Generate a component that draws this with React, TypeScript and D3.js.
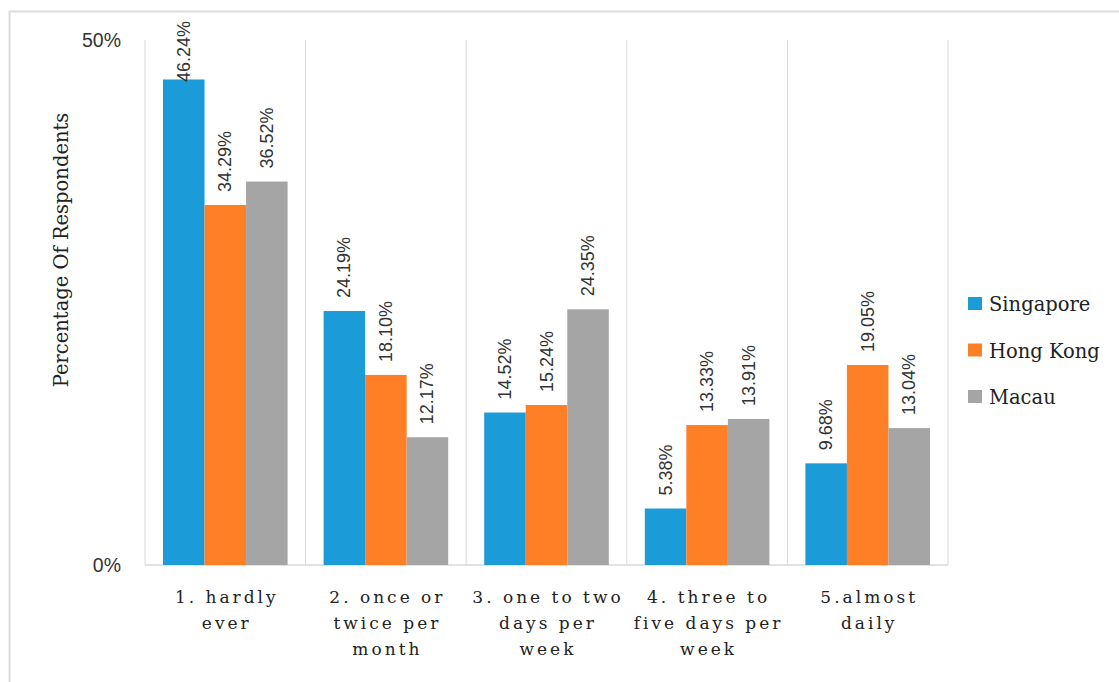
import * as d3 from "d3";

const categories = ["1", "2", "3", "4", "5"];
const categoryLines = [
  ["1. hardly", "ever"],
  ["2. once or", "twice per", "month"],
  ["3. one to two", "days per", "week"],
  ["4. three to", "five days per", "week"],
  ["5.almost", "daily"],
];
const seriesNames = ["Singapore", "Hong Kong", "Macau"];
const seriesColors = ["#1b9bd7", "#ff7f27", "#a5a5a5"];
const singapore = [46.24, 24.19, 14.52, 5.38, 9.68];
const hongKong = [34.29, 18.1, 15.24, 13.33, 19.05];
const macau = [36.52, 12.17, 24.35, 13.91, 13.04];
const seriesValues = [singapore, hongKong, macau];
const yTicks = [0, 50];

const width = 1119;
const height = 682;
const left = 145;
const right = 948;
const top = 40;
const bottom = 565;

export default function App() {
  const x = d3.scaleBand<string>().domain(categories).range([left, right]);
  const inner = d3
    .scaleBand<string>()
    .domain(seriesNames)
    .range([18, x.bandwidth() - 18]);
  const y = d3.scaleLinear().domain([0, 50]).range([bottom, top]);

  const grid = [...categories.map((c) => x(c)!), right];
  const sansFont = "'Liberation Sans', Arial, sans-serif";
  const serifFont = "'DejaVu Serif', serif";

  return (
    <svg
      width={width}
      height={height}
      style={{ position: "absolute", left: 0, top: 0, background: "#fff" }}
    >
      {/* outer frame */}
      <rect x={9.5} y={11.5} width={1200} height={800} fill="none" stroke="#dcdcdc" strokeWidth={2} />

      {/* vertical gridlines */}
      {grid.map((gx, i) => (
        <line key={i} x1={gx} x2={gx} y1={top} y2={bottom} stroke="#d9d9d9" strokeWidth={1} />
      ))}
      <line x1={left} x2={right} y1={bottom} y2={bottom} stroke="#d9d9d9" strokeWidth={1.5} />

      {/* y tick labels */}
      {yTicks.map((t) => (
        <text
          key={t}
          x={121}
          y={y(t) + 7}
          textAnchor="end"
          fontFamily={sansFont}
          fontSize={19.5}
          fill="#333"
        >
          {t}%
        </text>
      ))}

      {/* y axis title */}
      <text
        transform={`translate(68,250) rotate(-90)`}
        textAnchor="middle"
        fontFamily={serifFont}
        fontSize={19.5}
        fill="#222"
      >
        Percentage Of Respondents
      </text>

      {/* bars */}
      {seriesValues.map((vals, si) =>
        vals.map((v, ci) => {
          const bx = x(categories[ci])! + inner(seriesNames[si])!;
          return (
            <rect
              key={`${si}-${ci}`}
              x={bx}
              y={y(v)}
              width={inner.bandwidth()}
              height={bottom - y(v)}
              fill={seriesColors[si]}
            />
          );
        })
      )}

      {/* bar value labels */}
      {seriesValues.map((vals, si) =>
        vals.map((v, ci) => {
          const cx = x(categories[ci])! + inner(seriesNames[si])! + inner.bandwidth() / 2;
          const ty = Math.max(y(v) - 13, top + 42);
          return (
            <text
              key={`l${si}-${ci}`}
              transform={`translate(${cx + 6},${ty}) rotate(-90)`}
              fontFamily={sansFont}
              fontSize={18}
              fill="#333"
            >
              {v.toFixed(2)}%
            </text>
          );
        })
      )}

      {/* category labels */}
      {categoryLines.map((lines, ci) =>
        lines.map((ln, li) => (
          <text
            key={`c${ci}-${li}`}
            x={x(categories[ci])! + x.bandwidth() / 2 + 1.5}
            y={603 + li * 26}
            textAnchor="middle"
            fontFamily={serifFont}
            fontSize={17}
            letterSpacing={3}
            fill="#222"
          >
            {ln}
          </text>
        ))
      )}

      {/* legend */}
      {seriesNames.map((name, i) => (
        <g key={name} transform={`translate(968,${297 + i * 46.5})`}>
          <rect width={14} height={13} fill={seriesColors[i]} />
          <text x={21} y={14} fontFamily={serifFont} fontSize={19.5} fill="#222">
            {name}
          </text>
        </g>
      ))}
    </svg>
  );
}
